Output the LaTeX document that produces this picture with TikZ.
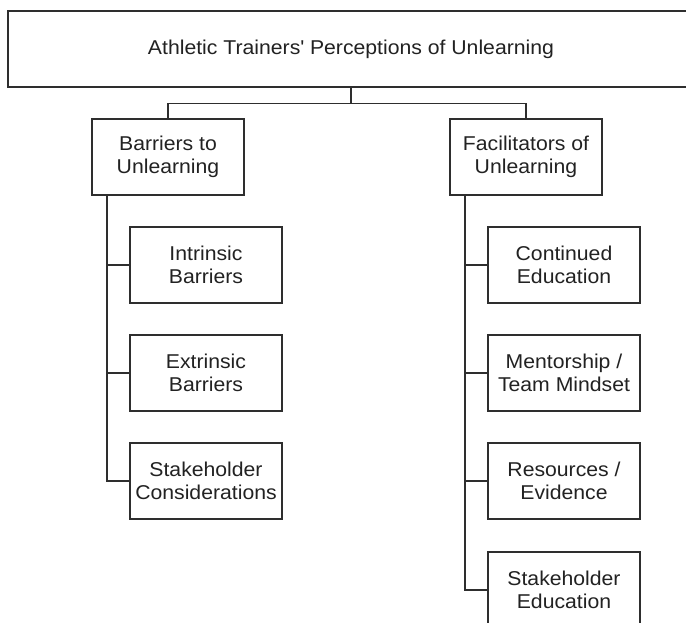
\documentclass[tikz,border=0pt]{standalone}
\usepackage{fontspec}
\setmainfont[FakeStretch=1.06]{Liberation Sans}
\definecolor{linegray}{HTML}{2E2E2E}
\definecolor{textgray}{HTML}{222222}
\begin{document}
\begin{tikzpicture}[x=1pt,y=-1pt,
  box/.style={draw=linegray, line width=1.4pt, fill=white, text=textgray,
    minimum width=152pt, minimum height=76pt, align=center, inner sep=0pt,
    font=\fontsize{20}{23}\selectfont},
  link/.style={draw=linegray, line width=1.4pt}]
\useasboundingbox (0,0) rectangle (686,623);
\begin{scope}
\clip (0,0) rectangle (686,623);
% root
\node[box, minimum width=686pt] (top) at (351,49) {Athletic Trainers\textquotesingle{} Perceptions of Unlearning};
% second level
\node[box] (barr) at (168,157) {Barriers to\\Unlearning};
\node[box] (faci) at (526,157) {Facilitators of\\Unlearning};
% barriers
\node[box] (intr) at (206,265) {Intrinsic\\Barriers};
\node[box] (extr) at (206,373) {Extrinsic\\Barriers};
\node[box] (stak) at (206,481) {Stakeholder\\Considerations};
% facilitators
\node[box] (cont) at (564,265) {Continued\\Education};
\node[box] (ment) at (564,373) {Mentorship /\\Team Mindset};
\node[box] (reso) at (564,481) {Resources /\\Evidence};
\node[box] (sted) at (564,590) {Stakeholder\\Education};
% trunk positions
\coordinate (lt) at (107,0);
\coordinate (rt) at (465,0);
% root to second level
\draw[link] (top.south) -- ++(0,16) coordinate (hub);
\draw[link] (barr.north) |- (hub) -| (faci.north);
% barrier branches
\draw[link] (barr.south -| lt) |- (stak.west);
\draw[link] (intr.west -| lt) -- (intr.west);
\draw[link] (extr.west -| lt) -- (extr.west);
% facilitator branches
\draw[link] (faci.south -| rt) |- (sted.west);
\draw[link] (cont.west -| rt) -- (cont.west);
\draw[link] (ment.west -| rt) -- (ment.west);
\draw[link] (reso.west -| rt) -- (reso.west);
\end{scope}
\end{tikzpicture}
\end{document}
